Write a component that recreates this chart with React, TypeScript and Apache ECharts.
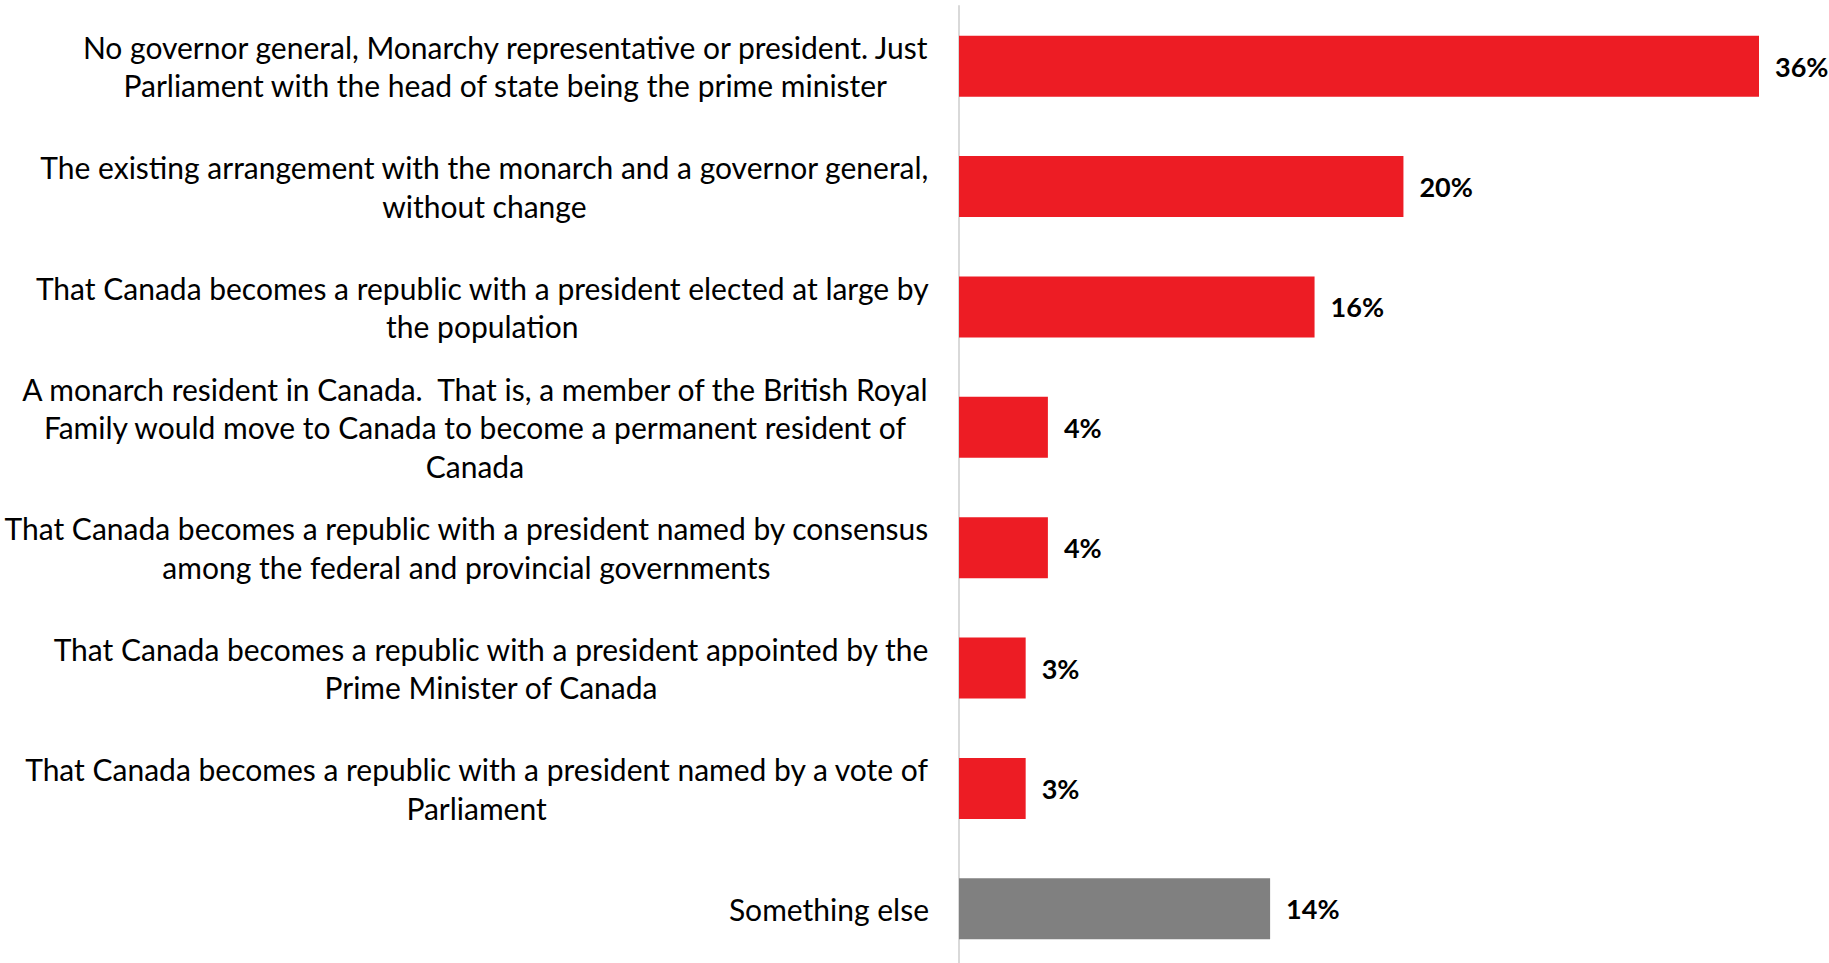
import React, { useEffect, useRef } from "react";
import * as echarts from "echarts";

const categories: string[] = [
  "No governor general, Monarchy representative or president. Just\nParliament with the head of state being the prime minister",
  "The existing arrangement with the monarch and a governor general,\nwithout change",
  "That Canada becomes a republic with a president elected at large by\nthe population",
  "A monarch resident in Canada.  That is, a member of the British Royal\nFamily would move to Canada to become a permanent resident of\nCanada",
  "That Canada becomes a republic with a president named by consensus\namong the federal and provincial governments",
  "That Canada becomes a republic with a president appointed by the\nPrime Minister of Canada",
  "That Canada becomes a republic with a president named by a vote of\nParliament",
  "Something else",
];

const values: number[] = [36, 20, 16, 4, 4, 3, 3, 14];
const barColors: string[] = ["#ED1C24", "#ED1C24", "#ED1C24", "#ED1C24", "#ED1C24", "#ED1C24", "#ED1C24", "#808080"];

const FONT = "Lato, 'Noto Sans', sans-serif";

export default function App() {
  const ref = useRef<HTMLDivElement>(null);
  useEffect(() => {
    if (!ref.current) return;
    const chart = echarts.init(ref.current, null, { renderer: "svg" });
    chart.setOption({
      animation: false,
      backgroundColor: "#ffffff",
      grid: {
        left: 959,
        right: 70,
        top: 6,
        height: 963,
        containLabel: false,
        outerBoundsMode: "none",
      },
      xAxis: {
        type: "value",
        min: 0,
        max: 36,
        show: false,
      },
      yAxis: {
        type: "category",
        inverse: true,
        data: categories,
        axisTick: { show: false },
        axisLine: { show: true, lineStyle: { color: "#D9D9D9", width: 2 } },
        axisLabel: {
          margin: 30,
          align: "right",
          color: "#000000",
          fontFamily: FONT,
          fontSize: 30,
          lineHeight: 38.5,
          formatter: (v: string) =>
            v
              .split("\n")
              .map((l) => `{c|${l}}`)
              .join("\n"),
          rich: {
            c: {
              align: "center",
              color: "#000000",
              fontFamily: FONT,
              fontSize: 30,
              lineHeight: 38.5,
            },
          },
        },
      },
      series: [
        {
          type: "bar",
          barWidth: 61,
          data: values.map((v, i) => ({ value: v, itemStyle: { color: barColors[i] } })),
          label: {
            show: true,
            position: "right",
            distance: 16,
            formatter: "{c}%",
            color: "#000000",
            fontFamily: FONT,
            fontWeight: "bold",
            fontSize: 27,
          },
        },
      ],
    });
    return () => chart.dispose();
  }, []);
  return (
    <div
      ref={ref}
      style={{ position: "fixed", left: 0, top: 0, width: 1829, height: 963, background: "#fff" }}
    />
  );
}
